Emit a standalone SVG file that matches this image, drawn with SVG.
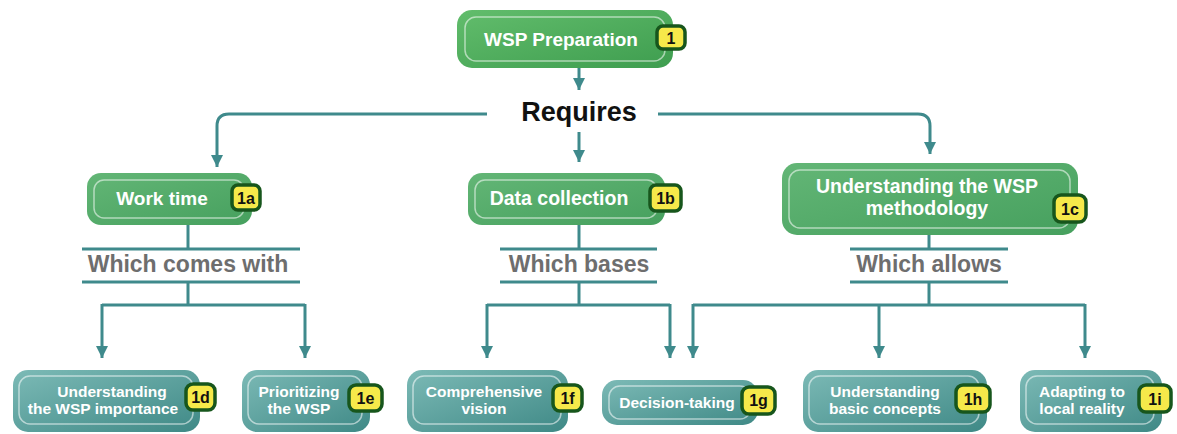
<svg xmlns="http://www.w3.org/2000/svg" width="1177" height="434" viewBox="0 0 1177 434">
<style>
.conn{fill:none;stroke:#3f8a8c;stroke-width:3}
.green{fill:url(#gGreen)}
.green2{fill:url(#gGreen2)}
.teal{fill:url(#gTeal)}
.inner{fill:none;stroke:#ffffff;stroke-opacity:0.55;stroke-width:1.5}
.badge{fill:#f6e94a;stroke:#17561c;stroke-width:3.5}
.bt{font-family:"Liberation Sans",Arial,sans-serif;font-weight:bold;font-size:16px;fill:#111;text-anchor:middle}
.nt{font-family:"Liberation Sans",Arial,sans-serif;font-weight:bold;fill:#fff;text-anchor:middle}
.lbl{font-family:"Liberation Sans",Arial,sans-serif;font-weight:bold;font-size:23px;fill:#6e6e6e;text-anchor:middle}
</style>
<defs>
<linearGradient id="gGreen" x1="0" y1="0" x2="1" y2="1">
<stop offset="0" stop-color="#62bd6c"/>
<stop offset="1" stop-color="#3e9d4f"/>
</linearGradient>
<linearGradient id="gGreen2" x1="0" y1="0" x2="1" y2="1">
<stop offset="0" stop-color="#63b676"/>
<stop offset="1" stop-color="#46a05e"/>
</linearGradient>
<linearGradient id="gTeal" x1="0" y1="0" x2="1" y2="1">
<stop offset="0" stop-color="#7cbab6"/>
<stop offset="1" stop-color="#3f8986"/>
</linearGradient>
<marker id="arr" markerUnits="userSpaceOnUse" viewBox="0 0 12 12" markerWidth="12" markerHeight="12" refX="12" refY="6" orient="auto">
<path d="M0,0 L12,6 L0,12 z" fill="#3f8a8c"/>
</marker>
</defs>

<g id="connectors">
<path class="conn" d="M579,68 V90" marker-end="url(#arr)"/>
<path class="conn" d="M487,114 H229 Q217,114 217,126 V167" marker-end="url(#arr)"/>
<path class="conn" d="M658,114 H918 Q930,114 930,126 V154" marker-end="url(#arr)"/>
<path class="conn" d="M579,132 V162" marker-end="url(#arr)"/>
<path class="conn" d="M188,225 V249"/>
<path class="conn" d="M82,249 H300 M82,282 H300"/>
<path class="conn" d="M188,282 V305 M102,305 H305"/>
<path class="conn" d="M102,304 V358" marker-end="url(#arr)"/>
<path class="conn" d="M305,304 V358" marker-end="url(#arr)"/>
<path class="conn" d="M579,225 V249"/>
<path class="conn" d="M500,249 H657 M500,282 H657"/>
<path class="conn" d="M579,282 V305 M487,305 H670"/>
<path class="conn" d="M487,304 V358" marker-end="url(#arr)"/>
<path class="conn" d="M670,304 V358" marker-end="url(#arr)"/>
<path class="conn" d="M929,235 V249"/>
<path class="conn" d="M850,249 H1008 M850,282 H1008"/>
<path class="conn" d="M929,282 V305 M693,305 H1085"/>
<path class="conn" d="M693,304 V358" marker-end="url(#arr)"/>
<path class="conn" d="M879,304 V358" marker-end="url(#arr)"/>
<path class="conn" d="M1085,304 V358" marker-end="url(#arr)"/>
</g>

<text x="579" y="121" font-family="Liberation Sans,Arial,sans-serif" font-weight="bold" font-size="27" fill="#111" text-anchor="middle">Requires</text>
<text class="lbl" x="188" y="272">Which comes with</text>
<text class="lbl" x="579" y="272">Which bases</text>
<text class="lbl" x="929" y="272">Which allows</text>

<g id="n1">
<rect class="green" x="457" y="10" width="216" height="58" rx="15"/>
<rect class="inner" x="465" y="17" width="200" height="44" rx="11"/>
<text class="nt" x="561" y="46" font-size="19">WSP Preparation</text>
<rect class="badge" x="657" y="26" width="28" height="23" rx="6"/>
<text class="bt" x="671" y="43.5">1</text>
</g>

<g id="n1a">
<rect class="green2" x="87" y="173" width="165" height="52" rx="14"/>
<rect class="inner" x="94" y="180" width="150" height="38" rx="10"/>
<text class="nt" x="162" y="205" font-size="19">Work time</text>
<rect class="badge" x="232" y="185" width="28" height="25" rx="6"/>
<text class="bt" x="246" y="203.5">1a</text>
</g>

<g id="n1b">
<rect class="green2" x="468" y="173" width="197" height="52" rx="14"/>
<rect class="inner" x="475" y="180" width="182" height="38" rx="10"/>
<text class="nt" x="559" y="205" font-size="19.5">Data collection</text>
<rect class="badge" x="650" y="185" width="31" height="26" rx="6"/>
<text class="bt" x="665.5" y="204">1b</text>
</g>

<g id="n1c">
<rect class="green2" x="782" y="163" width="296" height="72" rx="15"/>
<rect class="inner" x="789" y="170" width="281" height="58" rx="11"/>
<text class="nt" x="927" y="193" font-size="19.5">Understanding the WSP</text>
<text class="nt" x="927" y="215" font-size="19.5">methodology</text>
<rect class="badge" x="1054" y="195" width="32" height="27" rx="7"/>
<text class="bt" x="1070" y="214.5">1c</text>
</g>

<g id="n1d">
<rect class="teal" x="13" y="370" width="187" height="62" rx="15"/>
<rect class="inner" x="19" y="376" width="174" height="48" rx="11"/>
<text class="nt" x="112" y="397" font-size="15.5">Understanding</text>
<text class="nt" x="103" y="414" font-size="15.5">the WSP importance</text>
<rect class="badge" x="186" y="384" width="29" height="26" rx="7"/>
<text class="bt" x="200.5" y="403">1d</text>
</g>

<g id="n1e">
<rect class="teal" x="242" y="370" width="128" height="62" rx="15"/>
<rect class="inner" x="248" y="376" width="114" height="48" rx="11"/>
<text class="nt" x="299" y="397" font-size="15.5">Prioritizing</text>
<text class="nt" x="299" y="414" font-size="15.5">the WSP</text>
<rect class="badge" x="349" y="385" width="33" height="26" rx="7"/>
<text class="bt" x="365.5" y="404">1e</text>
</g>

<g id="n1f">
<rect class="teal" x="407" y="370" width="161" height="62" rx="15"/>
<rect class="inner" x="413" y="376" width="148" height="48" rx="11"/>
<text class="nt" x="484" y="397" font-size="15.5">Comprehensive</text>
<text class="nt" x="484" y="414" font-size="15.5">vision</text>
<rect class="badge" x="553" y="385" width="29" height="26" rx="7"/>
<text class="bt" x="567.5" y="404">1f</text>
</g>

<g id="n1g">
<rect class="teal" x="602" y="380" width="156" height="45" rx="15"/>
<rect class="inner" x="609" y="386" width="142" height="33" rx="11"/>
<text class="nt" x="677" y="408" font-size="15.5">Decision-taking</text>
<rect class="badge" x="742" y="387" width="33" height="27" rx="7"/>
<text class="bt" x="758.5" y="405.5">1g</text>
</g>

<g id="n1h">
<rect class="teal" x="803" y="370" width="184" height="62" rx="15"/>
<rect class="inner" x="809" y="376" width="170" height="48" rx="11"/>
<text class="nt" x="885" y="397" font-size="15.5">Understanding</text>
<text class="nt" x="885" y="414" font-size="15.5">basic concepts</text>
<rect class="badge" x="956" y="385" width="34" height="27" rx="7"/>
<text class="bt" x="973" y="404.5">1h</text>
</g>

<g id="n1i">
<rect class="teal" x="1020" y="370" width="142" height="62" rx="15"/>
<rect class="inner" x="1026" y="376" width="128" height="48" rx="11"/>
<text class="nt" x="1082" y="397" font-size="15.5">Adapting to</text>
<text class="nt" x="1082" y="414" font-size="15.5">local reality</text>
<rect class="badge" x="1139" y="385" width="32" height="27" rx="7"/>
<text class="bt" x="1155" y="404.5">1i</text>
</g>
</svg>
